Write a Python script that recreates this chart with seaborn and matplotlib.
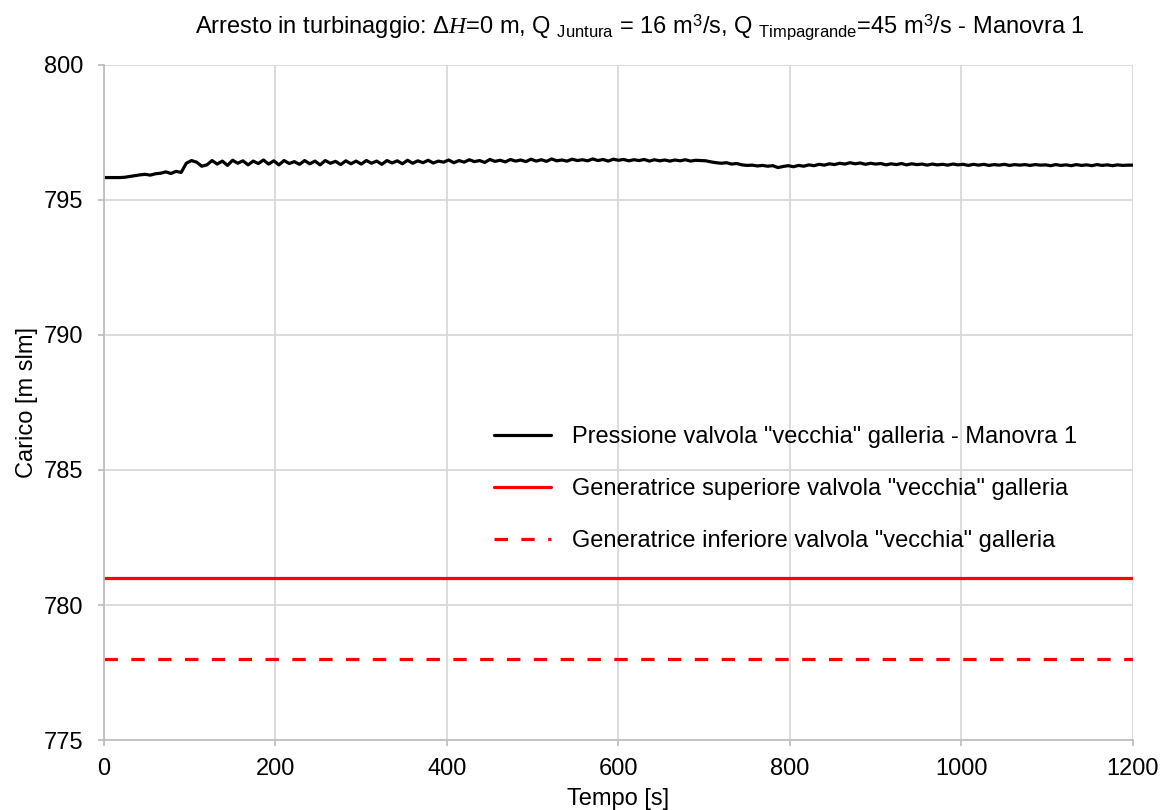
import numpy as np
import pandas as pd
import matplotlib
matplotlib.use("Agg")
import matplotlib.pyplot as plt
import seaborn as sns

# Time axis of the simulated pressure record [s], one sample every 6 s
tempo = list(range(0, 1201, 6))

# Head at the "old" valve of the tunnel, Manovra 1 [m slm]
pressione = [
    795.83, 795.83, 795.83, 795.83, 795.84, 795.87, 795.90, 795.93, 795.95, 795.92,
    795.97, 795.99, 796.04, 795.98, 796.06, 796.02, 796.36, 796.46, 796.40, 796.25,
    796.30, 796.46, 796.33, 796.44, 796.28, 796.47, 796.36, 796.45, 796.30, 796.44,
    796.35, 796.48, 796.33, 796.45, 796.30, 796.46, 796.35, 796.42, 796.32, 796.46,
    796.34, 796.44, 796.30, 796.46, 796.36, 796.43, 796.31, 796.45, 796.34, 796.44,
    796.33, 796.46, 796.36, 796.44, 796.32, 796.46, 796.37, 796.45, 796.34, 796.47,
    796.36, 796.45, 796.38, 796.47, 796.37, 796.44, 796.40, 796.48, 796.38, 796.46,
    796.40, 796.49, 796.42, 796.46, 796.39, 796.50, 796.43, 796.47, 796.41, 796.50,
    796.44, 796.48, 796.42, 796.51, 796.44, 796.49, 796.43, 796.52, 796.45, 796.48,
    796.44, 796.51, 796.46, 796.49, 796.45, 796.52, 796.46, 796.50, 796.44, 796.51,
    796.47, 796.50, 796.45, 796.49, 796.46, 796.50, 796.44, 796.49, 796.45, 796.48,
    796.44, 796.48, 796.45, 796.49, 796.44, 796.47, 796.46, 796.45, 796.41, 796.38,
    796.36, 796.38, 796.33, 796.35, 796.30, 796.28, 796.29, 796.26, 796.28, 796.25,
    796.27, 796.20, 796.24, 796.27, 796.23, 796.28, 796.25, 796.30, 796.27, 796.32,
    796.29, 796.34, 796.31, 796.36, 796.33, 796.38, 796.34, 796.37, 796.32, 796.36,
    796.33, 796.35, 796.30, 796.34, 796.31, 796.35, 796.30, 796.34, 796.31, 796.33,
    796.29, 796.33, 796.30, 796.32, 796.29, 796.33, 796.30, 796.32, 796.28, 796.32,
    796.29, 796.32, 796.28, 796.31, 796.29, 796.32, 796.28, 796.31, 796.29, 796.31,
    796.28, 796.31, 796.29, 796.30, 796.27, 796.31, 796.28, 796.30, 796.27, 796.31,
    796.28, 796.30, 796.27, 796.31, 796.28, 796.30, 796.27, 796.30, 796.28, 796.29,
    796.29,
]

# Upper and lower generatrix of the valve [m slm]
tempo_rif = [0, 1200]
gen_superiore = [781.0, 781.0]
gen_inferiore = [778.0, 778.0]

labels = [
    'Pressione valvola "vecchia" galleria - Manovra 1',
    'Generatrice superiore valvola "vecchia" galleria',
    'Generatrice inferiore valvola "vecchia" galleria',
]

x_ticks = [0, 200, 400, 600, 800, 1000, 1200]
y_ticks = [775, 780, 785, 790, 795, 800]

sns.set_theme(style="white")
plt.rcParams["font.family"] = ["Liberation Sans", "DejaVu Sans"]
plt.rcParams["text.color"] = "black"
plt.rcParams["axes.labelcolor"] = "black"
plt.rcParams["mathtext.fontset"] = "custom"
plt.rcParams["mathtext.rm"] = "Liberation Sans"
plt.rcParams["mathtext.it"] = "Liberation Serif:italic"

FS = 17

fig = plt.figure(figsize=(11.62, 8.10), dpi=100)
ax = fig.add_axes([0.0895, 0.0864, 0.8855, 0.8334])

grid_col = "#d9d9d9"

sns.lineplot(x=tempo, y=pressione, ax=ax, color="black", linewidth=2.3,
             label=labels[0], estimator=None)
sns.lineplot(x=tempo_rif, y=gen_superiore, ax=ax, color="#ff0000", linewidth=2.3,
             label=labels[1], estimator=None)
sns.lineplot(x=tempo_rif, y=gen_inferiore, ax=ax, color="#ff0000", linewidth=2.3,
             label=labels[2], estimator=None)
ax.lines[2].set_dashes([4.2, 4.2])

ax.set_xlim(0, 1200)
ax.set_ylim(775, 800)
ax.set_xticks(x_ticks)
ax.set_yticks(y_ticks)
ax.tick_params(axis="both", labelsize=FS, colors="#bfbfbf", labelcolor="black",
               length=4.5, width=1.3, direction="out", bottom=True, left=True)
ax.tick_params(axis="x", pad=8.5)
ax.tick_params(axis="y", pad=10.5)
ax.grid(True, color=grid_col, linewidth=1.3)
ax.set_axisbelow(True)
for side in ["top", "right"]:
    ax.spines[side].set_visible(False)
for side in ["left", "bottom"]:
    ax.spines[side].set_color("#bfbfbf")
    ax.spines[side].set_linewidth(1.3)

ax.set_xlabel("Tempo [s]", fontsize=FS, labelpad=6)
ax.set_ylabel("Carico [m slm]", fontsize=FS, labelpad=4)

fig.text(0.551, 0.967,
         r"Arresto in turbinaggio: $\mathit{ΔH}$=0 m, Q $_{\mathrm{Juntura}}$ = 16 m$^{3}$/s, "
         r"Q $_{\mathrm{Timpagrande}}$=45 m$^{3}$/s - Manovra 1",
         ha="center", va="center", fontsize=FS)

leg = ax.legend(loc="upper left", bbox_to_anchor=(0.358, 0.497), frameon=False,
                fontsize=FS, handlelength=2.45, handletextpad=0.85,
                labelspacing=1.28)
for txt in leg.get_texts():
    txt.set_color("black")

fig.savefig("out.png", dpi=100)
